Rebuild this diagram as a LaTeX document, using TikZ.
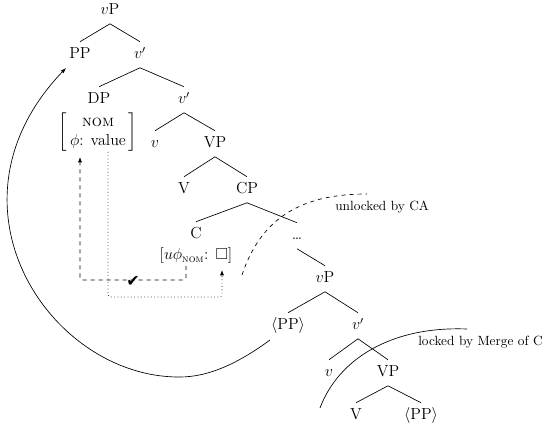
\documentclass[tikz,border=0pt]{standalone}
\usepackage{amsmath,amssymb}
\usepackage{fontspec}
\newfontfamily\dejavu{DejaVu Sans}
\usetikzlibrary{arrows.meta,calc}
\begin{document}
\begin{tikzpicture}[x=0.75pt,y=-0.75pt,
  tn/.style={inner sep=0pt, text height=12.75pt, text depth=6.4pt, anchor=base, font=\fontsize{12}{14}\selectfont},
  edge/.style={line width=0.5pt},
  tip/.style={-{Latex[length=4pt,width=3pt]}},
  lab/.style={inner sep=0pt, anchor=base west, font=\fontsize{10}{12}\selectfont},
  feat/.style={inner sep=0pt, font=\fontsize{12}{14}\selectfont}]
\useasboundingbox (0,0) rectangle (547,427);
% tree nodes
\node[tn] (vP1) at (110,15) {$v$P};
\node[tn] (PP1) at (80,59) {PP};
\node[tn] (v1) at (140,59) {$v'$};
\node[tn] (DP) at (99,104) {DP};
\node[tn] (v2) at (184,104) {$v'$};
\node[tn] (v3) at (155,148) {$v$};
\node[tn] (VP1) at (215,148) {VP};
\node[tn] (V1) at (184,194) {V};
\node[tn] (CP) at (247,194) {CP};
\node[tn] (C) at (196,239) {C};
\node[tn] (dots) at (297,240) {\dots};
\node[tn] (vP2) at (325,283) {$v$P};
\node[tn] (PP2) at (288,330) {$\langle$PP$\rangle$};
\node[tn] (v4) at (358,330) {$v'$};
\node[tn] (v5) at (329,377) {$v$};
\node[tn] (VP2) at (388,377) {VP};
\node[tn] (V2) at (356,420) {V};
\node[tn] (PP3) at (421,420) {$\langle$PP$\rangle$};
% feature nodes
\node[feat] (box) at (98,132) {$\left[\begin{array}{@{\,}c@{\,}}\text{\textsc{nom}}\\ \phi\text{: value}\end{array}\right]$};
\node[feat] (fc) at (196,256) {$[u\phi_{\text{\textsc{nom}}}\text{: }\square]$};
% tree edges
\draw[edge] (vP1.south) -- (PP1.north);
\draw[edge] (vP1.south) -- (v1.north);
\draw[edge] (v1.south) -- (DP.north);
\draw[edge] (v1.south) -- (v2.north);
\draw[edge] (v2.south) -- (v3.north);
\draw[edge] (v2.south) -- (VP1.north);
\draw[edge] (VP1.south) -- (V1.north);
\draw[edge] (VP1.south) -- (CP.north);
\draw[edge] (CP.south) -- (C.north);
\draw[edge] (CP.south) -- (dots.north);
\draw[edge] (dots.south) -- (vP2.north);
\draw[edge] (vP2.south) -- (PP2.north);
\draw[edge] (vP2.south) -- (v4.north);
\draw[edge] (v4.south) -- (v5.north);
\draw[edge] (v4.south) -- (VP2.north);
\draw[edge] (VP2.south) -- (V2.north);
\draw[edge] (VP2.south) -- (PP3.north);
% agree (dashed) and value (dotted)
\coordinate (dstart) at (186,266);
\coordinate (dend) at (80,157);
\draw[edge, dashed, rounded corners=2pt, tip] (dstart) -- ++(0,14) -| (dend);
\node[inner sep=0pt, font=\dejavu\fontsize{12}{14}\selectfont] (chk) at (133,281) {✔};
\coordinate (ostart) at (108,152);
\coordinate (oend) at (222,270);
\draw[edge, dotted, rounded corners=2pt, tip] (ostart) -- ++(0,145) -| (oend);
% movement arrow
\coordinate (cstart) at (270,340);
\coordinate (cbot) at (180,377);
\coordinate (cend) at (66,68);
\draw[edge, tip] (cstart) .. controls (240,362) and (210,377) .. (cbot) .. controls (50,378) and (-65,205) .. (cend);
% phase boundaries
\coordinate (ustart) at (242,275);
\coordinate (uend) at (367,194);
\draw[edge, dashed] (ustart) .. controls (262,215) and (305,194) .. (uend);
\node[lab] (unlock) at (335,211) {unlocked by CA};
\coordinate (lstart) at (320,408);
\coordinate (lend) at (467,329);
\draw[edge] (lstart) .. controls (338,360) and (390,326) .. (lend);
\node[lab] (lock) at (418,346) {locked by Merge of C};
\end{tikzpicture}
\end{document}
